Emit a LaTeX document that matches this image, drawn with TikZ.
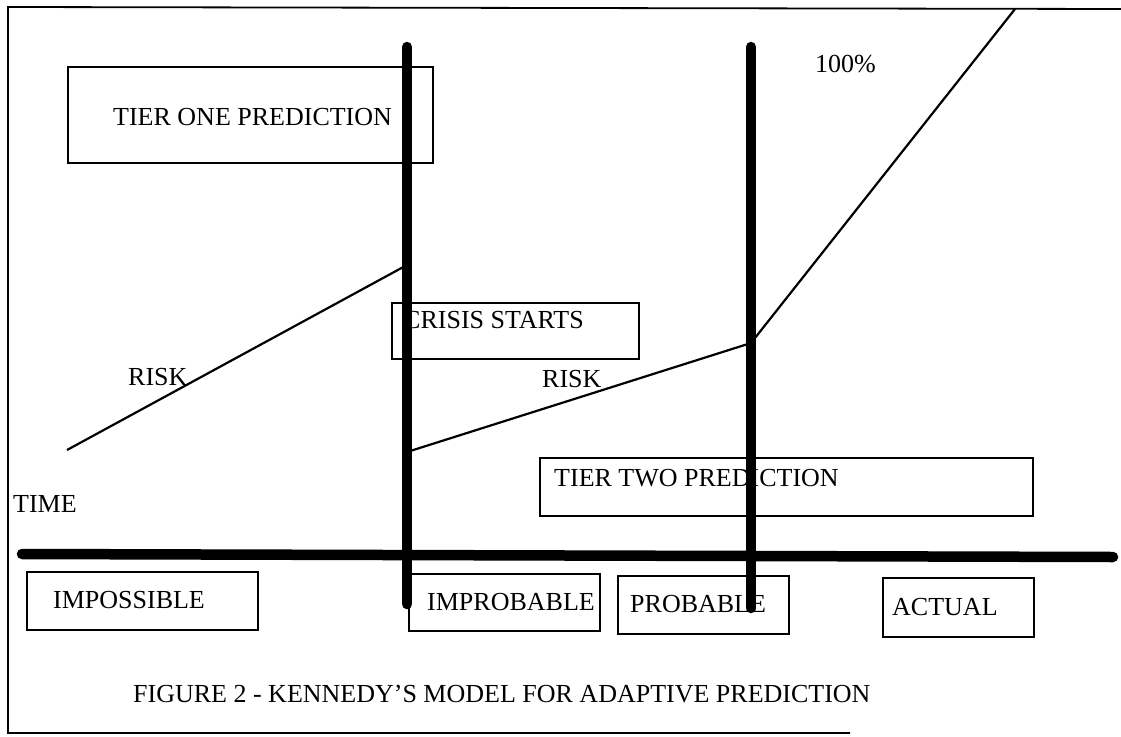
\documentclass[tikz,border=0pt]{standalone}
\usepackage{fontspec}
\setmainfont{Liberation Serif}
\begin{document}
\begin{tikzpicture}[x=1pt,y=-1pt,
  box/.style={draw, line width=2pt, inner sep=0pt, anchor=north west},
  lbl/.style={anchor=base west, inner sep=0pt, font=\fontsize{26}{30}\selectfont},
  bar/.style={line width=10.5pt, line cap=round},
  riskline/.style={line width=2.2pt},
  frameline/.style={line width=1.8pt}]
\useasboundingbox (0,0) rectangle (1121,736);
% frame
\coordinate (fTR) at (1121,9);
\coordinate (fTL) at (8,7);
\coordinate (fBL) at (8,733);
\coordinate (fBR) at (850,733);
\draw[frameline] (fTR) -- (fTL) -- (fBL) -- (fBR);
% boxes
\node[box, minimum width=365pt, minimum height=96pt] (tierone) at (67,66) {};
\node[box, minimum width=247pt, minimum height=56pt] (crisis) at (391,302) {};
\node[box, minimum width=493pt, minimum height=58pt] (tiertwo) at (539,457) {};
\node[box, minimum width=231pt, minimum height=58pt] (impossible) at (26,571) {};
\node[box, minimum width=191pt, minimum height=57pt] (improbable) at (408,573) {};
\node[box, minimum width=171pt, minimum height=58pt] (probable) at (617,575) {};
\node[box, minimum width=151pt, minimum height=59pt] (actual) at (882,577) {};
% labels
\node[lbl] (tTierOne) at (113,125) {TIER ONE PREDICTION};
\node[lbl] (tCrisis) at (403,328) {CRISIS STARTS};
\node[lbl] (tTierTwo) at (554,486) {TIER TWO PREDICTION};
\node[lbl] (tImpossible) at (53,608) {IMPOSSIBLE};
\node[lbl] (tImprobable) at (427,610) {IMPROBABLE};
\node[lbl] (tProbable) at (630,612) {PROBABLE};
\node[lbl] (tActual) at (892,615) {ACTUAL};
\node[lbl] (tTime) at (13,512) {TIME};
\node[lbl] (tRiskA) at (128,385) {RISK};
\node[lbl] (tRiskB) at (542,387) {RISK};
\node[lbl] (tHundred) at (815,72) {100\%};
\node[lbl] (tCaption) at (133,702) {FIGURE 2 - KENNEDY’S MODEL FOR ADAPTIVE PREDICTION};
% risk lines
\coordinate (rA0) at (67,450);
\coordinate (rA1) at (407,265);
\coordinate (rB0) at (407,452);
\coordinate (rB1) at (751,343);
\coordinate (rB2) at (1015,9);
\draw[riskline] (rA0) -- (rA1);
\draw[riskline] (rB0) -- (rB1) -- (rB2);
% thick bars
\coordinate (vA0) at (407,47);
\coordinate (vA1) at (407,604);
\coordinate (vB0) at (751,47);
\coordinate (vB1) at (751,608);
\coordinate (h0) at (22,554);
\coordinate (h1) at (1113,557);
\draw[bar] (h0) -- (h1);
\draw[bar] (vA0) -- (vA1);
\draw[bar] (vB0) -- (vB1);
\end{tikzpicture}
\end{document}
